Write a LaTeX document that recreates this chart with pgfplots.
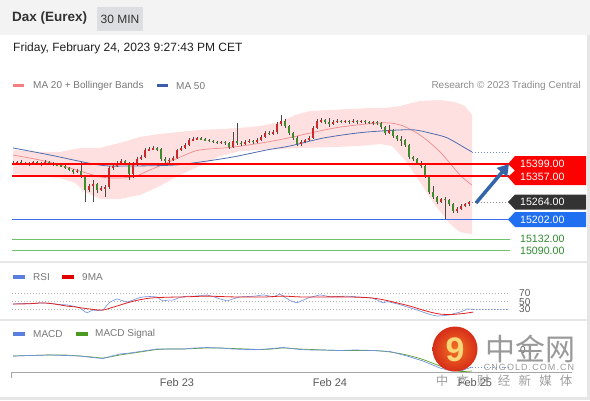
\documentclass[border=0pt]{standalone}
\usepackage{pgfplots}
\pgfplotsset{compat=1.18}
\usepackage{pgfplotstable}
\usetikzlibrary{arrows.meta}
\usepackage{fontspec}
\setmainfont{Liberation Sans}
\newfontfamily\cjk{Noto Sans CJK SC}
\definecolor{upc}{HTML}{CC2A2A}
\definecolor{dnc}{HTML}{3F8A2A}
\definecolor{wickc}{HTML}{4A4A4A}
\definecolor{bandc}{HTML}{FFE0E0}
\definecolor{ma20c}{HTML}{F08A8A}
\definecolor{ma50c}{HTML}{4E6DB0}
\definecolor{lvlblue}{RGB}{60,110,235}
\definecolor{lvlgreen}{RGB}{110,195,110}
\definecolor{boxblue}{HTML}{1F6FF0}
\definecolor{boxdark}{HTML}{333333}
\definecolor{txtgreen}{HTML}{2E8B2E}
\definecolor{rsiblue}{HTML}{7090E0}
\definecolor{rsired}{HTML}{E02020}
\definecolor{macdgreen}{HTML}{5AA02C}
\definecolor{arrowc}{HTML}{3465A8}
\definecolor{sep}{HTML}{E6E6E6}
\definecolor{hdr}{HTML}{F3F3F3}
\definecolor{minbox}{HTML}{DCDEE2}
\definecolor{lgtxt}{HTML}{777777}
\definecolor{wm}{HTML}{8F8F8F}
\definecolor{lgpink}{HTML}{F47F7F}
\definecolor{lgblue}{HTML}{3B5EA8}
\definecolor{lgrsi}{HTML}{5B7FE0}
\definecolor{lgred}{HTML}{E00000}
\definecolor{lggreen}{HTML}{4A9A20}

\pgfplotstableread{
x o h l c
13 15399 15410 15395 15403
17 15403 15410 15399 15406
21 15406 15413 15395 15399
25 15399 15406 15395 15403
29 15403 15406 15392 15399
33 15399 15410 15395 15406
37 15406 15410 15399 15403
41 15403 15406 15392 15399
45 15399 15413 15395 15406
49 15406 15410 15399 15403
53 15403 15406 15392 15399
57 15399 15403 15392 15395
61 15395 15399 15388 15392
65 15392 15395 15381 15385
69 15385 15388 15374 15378
73 15378 15381 15363 15371
77 15371 15381 15367 15374
81 15374 15406 15349 15356
85 15356 15360 15264 15307
89 15307 15328 15300 15321
93 15321 15342 15264 15328
97 15328 15331 15296 15307
101 15307 15321 15303 15314
105 15314 15324 15282 15317
109 15317 15392 15310 15385
113 15385 15399 15378 15392
117 15392 15410 15388 15403
121 15403 15417 15399 15410
125 15410 15413 15395 15403
129 15403 15406 15342 15363
133 15363 15406 15349 15399
137 15399 15424 15392 15417
141 15417 15431 15413 15424
145 15424 15456 15420 15449
149 15449 15459 15445 15452
153 15452 15463 15449 15456
157 15456 15459 15445 15452
161 15452 15456 15410 15417
165 15417 15424 15403 15410
169 15410 15420 15403 15413
173 15413 15427 15410 15420
177 15420 15452 15417 15449
181 15449 15463 15445 15456
185 15456 15474 15452 15466
189 15466 15491 15463 15484
193 15484 15495 15481 15488
197 15488 15495 15484 15491
201 15491 15495 15484 15488
205 15488 15491 15481 15484
209 15484 15488 15477 15481
213 15481 15484 15474 15477
217 15477 15481 15470 15474
221 15474 15481 15470 15477
225 15477 15481 15466 15474
229 15474 15477 15452 15459
233 15459 15513 15456 15481
237 15481 15545 15466 15474
241 15474 15481 15463 15470
245 15470 15484 15466 15477
249 15477 15488 15474 15481
253 15481 15484 15470 15477
257 15477 15491 15474 15484
261 15484 15502 15481 15495
265 15495 15516 15491 15509
269 15509 15516 15502 15506
273 15506 15520 15502 15513
277 15513 15548 15506 15541
281 15541 15573 15534 15552
285 15552 15559 15527 15534
289 15534 15537 15502 15509
293 15509 15513 15484 15491
297 15491 15498 15463 15470
301 15470 15484 15463 15477
305 15477 15488 15474 15484
309 15484 15498 15481 15491
313 15491 15534 15488 15527
317 15527 15559 15523 15552
321 15552 15562 15545 15555
325 15555 15559 15541 15548
329 15548 15562 15530 15541
333 15541 15555 15537 15548
337 15548 15559 15545 15552
341 15552 15555 15545 15548
345 15548 15555 15545 15552
349 15552 15555 15541 15548
353 15548 15559 15545 15552
357 15552 15555 15541 15548
361 15548 15555 15545 15552
365 15552 15555 15541 15548
369 15548 15552 15541 15545
373 15545 15552 15537 15548
377 15548 15552 15537 15545
381 15545 15548 15523 15530
385 15530 15534 15502 15509
389 15509 15537 15506 15520
393 15520 15523 15491 15498
397 15498 15502 15481 15488
401 15488 15498 15463 15484
405 15484 15488 15459 15466
409 15466 15470 15417 15424
413 15424 15427 15410 15417
417 15417 15420 15399 15403
421 15403 15410 15385 15392
425 15392 15403 15349 15356
429 15356 15360 15292 15300
433 15300 15321 15275 15282
437 15282 15285 15257 15264
441 15264 15278 15260 15275
445 15275 15282 15200 15271
449 15271 15275 15250 15257
453 15257 15260 15225 15232
457 15232 15246 15225 15239
461 15239 15257 15235 15250
465 15250 15260 15246 15257
469 15257 15268 15250 15264
}\candles

\pgfplotsset{panel/.style={scale only axis, width=590pt, xmin=0, xmax=590,
  axis lines=none, clip=false, anchor=south west}}

\begin{document}
\begin{tikzpicture}
\begin{scope}[x=1pt,y=1pt]
% background and frame
\fill[white] (0,0) rectangle (590,400);
\fill[hdr] (0,365) rectangle (590,400);
\fill[minbox] (97,369) rectangle (143,393);
\node[anchor=west, inner sep=0, text=black!80, font=\fontsize{13.5}{15}\selectfont\bfseries] at (12,382) {Dax (Eurex)};
\node[inner sep=0, text=black!80, font=\fontsize{12}{14}\selectfont] at (120,381) {30 MIN};
\node[anchor=west, inner sep=0, text=black!88, font=\fontsize{12}{14}\selectfont] at (13,352) {Friday, February 24, 2023 9:27:43 PM CET};
\fill[sep] (0,137) rectangle (587,139);
\fill[sep] (0,79) rectangle (587,81);
\fill[sep] (0,0) rectangle (590,3);
\fill[sep] (587,0) rectangle (590,365);
% main legend
\fill[lgpink] (13,312.5) rectangle (24,316);
\node[anchor=west, inner sep=0, text=lgtxt, font=\fontsize{10}{12}\selectfont] at (33,314) {MA 20 + Bollinger Bands};
\fill[lgblue] (157,312.5) rectangle (168,316);
\node[anchor=west, inner sep=0, text=lgtxt, font=\fontsize{10}{12}\selectfont] at (176,314) {MA 50};
\node[anchor=east, inner sep=0, text=black!45, font=\fontsize{10}{12}\selectfont] at (581,314) {Research \textcopyright{} 2023 Trading Central};
\end{scope}

% price panel
\begin{axis}[panel, at={(0pt,138pt)}, height=167pt, ymin=15050.9, ymax=15644.1]
\addplot[fill=bandc, draw=none] coordinates {
(13,15449) (40,15442) (60,15442) (80,15456) (100,15456) (120,15474) (140,15495)
(160,15506) (180,15513) (200,15520) (220,15523) (240,15527) (260,15534) (280,15548)
(295,15573) (310,15587) (330,15591) (350,15594) (370,15598) (385,15598) (400,15605)
(420,15623) (440,15626) (455,15619) (465,15605) (472,15573)
(472,15150) (460,15157) (450,15186) (435,15253) (420,15335) (405,15413) (392,15463)
(380,15470) (360,15463) (330,15459) (300,15456) (280,15452) (260,15449) (240,15445)
(220,15427) (200,15392) (180,15360) (160,15321) (140,15289) (120,15275) (100,15275)
(85,15300) (75,15332) (60,15349) (40,15356) (13,15364)} -- cycle;
\addplot[ma20c, line width=0.7pt, smooth] coordinates {
(13,15431) (40,15413) (60,15395) (80,15374) (100,15353) (110,15349) (133,15353)
(150,15378) (167,15403) (185,15431) (200,15449) (233,15459) (267,15477) (293,15495)
(310,15509) (340,15530) (380,15545) (400,15538) (420,15502) (440,15442) (460,15360) (472,15324)};
\addplot[ma50c, line width=0.8pt, smooth] coordinates {
(13,15456) (50,15431) (100,15395) (130,15392) (173,15395) (200,15406) (233,15424)
(267,15449) (290,15463) (323,15491) (357,15509) (380,15516) (400,15520) (415,15520)
(430,15509) (445,15495) (455,15477) (465,15456) (472,15442)};
% wicks
\addplot[draw=none, mark=none, error bars/.cd, y dir=both, y explicit, error mark=none,
  error bar style={line width=0.6pt, draw=wickc, solid}]
  table[x=x, y expr={\thisrow{l}+(\thisrow{h}-\thisrow{l})/2}, y error expr={(\thisrow{h}-\thisrow{l})/2}] {\candles};
% up bodies
\addplot[draw=none, mark=none, error bars/.cd, y dir=both, y explicit, error mark=none,
  error bar style={line width=2.6pt, draw=upc, solid}]
  table[x=x, y expr={\thisrow{o}+(\thisrow{c}-\thisrow{o})/2}, y error expr={ifthenelse(\thisrow{c}>\thisrow{o},(\thisrow{c}-\thisrow{o})/2,0)}] {\candles};
% down bodies
\addplot[draw=none, mark=none, error bars/.cd, y dir=both, y explicit, error mark=none,
  error bar style={line width=2.6pt, draw=dnc, solid}]
  table[x=x, y expr={\thisrow{o}+(\thisrow{c}-\thisrow{o})/2}, y error expr={ifthenelse(\thisrow{c}<\thisrow{o},(\thisrow{o}-\thisrow{c})/2,0)}] {\candles};
% levels
\addplot[draw=red, line width=2pt] coordinates {(12,15399) (509,15399)};
\addplot[draw=red, line width=2pt] coordinates {(12,15357) (509,15357)};
\addplot[draw=lvlblue, line width=1.2pt] coordinates {(12,15202) (509,15202)};
\addplot[draw=lvlgreen, line width=1pt] coordinates {(12,15132) (510,15132)};
\addplot[draw=lvlgreen, line width=1pt] coordinates {(12,15090) (510,15090)};
\addplot[draw=black!45, dash pattern=on 1pt off 2pt] coordinates {(472,15264) (508,15264)};
\addplot[draw=ma50c!80, dash pattern=on 1pt off 2pt] coordinates {(472,15442) (510,15442)};
\end{axis}

% RSI panel
\begin{axis}[panel, at={(0pt,82pt)}, height=33pt, ymin=8.25, ymax=90.75]
\addplot[black!30, dash pattern=on 1pt off 2pt] coordinates {(12,70) (510,70)};
\addplot[black!30, dash pattern=on 1pt off 2pt] coordinates {(12,50) (510,50)};
\addplot[black!30, dash pattern=on 1pt off 2pt] coordinates {(12,30) (510,30)};
\addplot[rsiblue, line width=0.6pt] coordinates {
(13,43) (22,45) (30,44) (40,46) (50,45) (60,42) (67,41) (75,37) (80,33) (85,24) (87,21)
(90,25) (93,28) (98,27) (103,28) (107,40) (110,48) (114,53) (117,56) (122,52) (127,48)
(133,53) (138,58) (143,61) (150,62) (157,61) (160,55) (163,51) (168,53) (173,53) (180,60)
(187,63) (195,63) (200,64) (207,66) (213,62) (220,56) (227,51) (233,56) (240,61) (248,62)
(255,63) (263,66) (268,64) (273,61) (277,65) (280,68) (285,60) (290,52) (297,46) (303,53)
(310,60) (320,66) (325,64) (330,61) (338,62) (345,63) (352,62) (357,61) (365,60) (373,58)
(378,52) (383,46) (387,49) (390,48) (398,43) (407,36) (415,30) (423,23) (430,17) (437,13)
(443,14) (450,16) (455,20) (460,23) (465,28) (467,31) (473,30)};
\addplot[rsired, line width=0.8pt, smooth] coordinates {
(13,43) (30,44) (43,46) (55,43) (67,38) (75,36) (83,33) (92,30) (100,28) (105,29) (110,33)
(118,39) (127,46) (138,53) (150,58) (165,60) (183,61) (195,62) (207,63) (220,62) (233,61)
(250,61) (267,61) (283,63) (300,61) (323,61) (345,61) (360,60) (373,58) (385,53) (397,46)
(410,38) (423,28) (432,22) (440,18) (450,17) (457,18) (465,20) (473,23)};
\addplot[rsiblue, dash pattern=on 1pt off 2pt] coordinates {(473,30) (508,30)};
\end{axis}

% MACD panel
\begin{axis}[panel, at={(0pt,28pt)}, height=32pt, ymin=-44, ymax=20]
\addplot[macdgreen, line width=0.7pt, smooth] coordinates {
(13,-12) (30,-11) (50,-10) (65,-10) (80,-12) (92,-14) (103,-16) (112,-13) (120,-10)
(130,-7) (140,-4) (150,-1) (157,1) (170,2) (183,2) (195,3) (207,4) (220,4) (233,3)
(247,2) (260,1) (272,2) (283,4) (292,3) (300,2) (312,1) (323,0) (340,-1) (355,-1)
(373,-1) (390,-4) (407,-10) (423,-19) (440,-32) (452,-40) (462,-43) (472,-42)};
\addplot[rsiblue, line width=0.7pt] coordinates {
(13,-12) (30,-11) (50,-10) (65,-11) (80,-12) (92,-15) (103,-17) (112,-12) (120,-8)
(130,-6) (140,-3) (150,0) (157,2) (170,2) (183,2) (195,4) (207,5) (220,4) (233,2)
(247,1) (260,1) (272,3) (283,5) (292,3) (300,1) (312,0) (323,0) (340,-1) (355,0)
(373,-1) (390,-3) (407,-12) (423,-22) (440,-36) (452,-42) (462,-41) (472,-34)};
\addplot[rsiblue, dash pattern=on 1pt off 2pt] coordinates {(472,-34) (510,-34)};
\end{axis}

\begin{scope}[x=1pt,y=1pt]
% panel legends and labels
\fill[lgrsi] (13,121.5) rectangle (25,125);
\node[anchor=west, inner sep=0, text=lgtxt, font=\fontsize{10}{12}\selectfont] at (33,123) {RSI};
\fill[lgred] (62,121.5) rectangle (74,125);
\node[anchor=west, inner sep=0, text=lgtxt, font=\fontsize{10}{12}\selectfont] at (82,123) {9MA};
\fill[lgrsi] (13,64.5) rectangle (25,68);
\node[anchor=west, inner sep=0, text=lgtxt, font=\fontsize{10}{12}\selectfont] at (33,66) {MACD};
\fill[lggreen] (76,64.5) rectangle (88,68);
\node[anchor=west, inner sep=0, text=lgtxt, font=\fontsize{10}{12}\selectfont] at (95,66) {MACD Signal};
\foreach \v/\yy in {70/106.7,50/98.3,30/90.7}
  \node[anchor=west, inner sep=0, text=black!65, font=\fontsize{10}{12}\selectfont] at (519,\yy) {\v};
\node[anchor=west, inner sep=0, text=black!65, font=\fontsize{10}{12}\selectfont] at (520,50) {0};

% time axis
\draw[black!35, line width=0.8pt] (11,28) -- (572,28);
\draw[black!35, line width=0.8pt] (11,28) -- (11,22);
\foreach \lab/\xx in {Feb 23/177,Feb 24/330,Feb 25/475}
  \node[inner sep=0, text=black!65, font=\fontsize{11}{13}\selectfont] at (\xx,17) {\lab};

% price tags
\fill[red] (515,244) -- (586,244) -- (586,215) -- (515,215) -- (508,223) -- (515,229.5) -- (508,236) -- cycle;
\fill[boxdark] (515,205.5) -- (586,205.5) -- (586,190.5) -- (515,190.5) -- (508,198) -- cycle;
\fill[boxblue] (515,188) -- (586,188) -- (586,173) -- (515,173) -- (508,180.5) -- cycle;
\begin{scope}[every node/.style={anchor=west, inner sep=0, font=\fontsize{10.6}{12}\selectfont}]
\node[text=white] at (520,236) {15399.00};
\node[text=white] at (520,223) {15357.00};
\node[text=white] at (520,198) {15264.00};
\node[text=white] at (520,180.5) {15202.00};
\node[text=txtgreen] at (520,161) {15132.00};
\node[text=txtgreen] at (520,149) {15090.00};
\end{scope}
\draw[arrowc, line width=3.5pt, -{Triangle[length=11pt,width=13pt]}] (476,197) -- (509,236);

% watermark
\shade[inner color={rgb,255:red,242;green,115;blue,35}, outer color={rgb,255:red,214;green,45;blue,25}] (455,51) circle (22.5);
\node[text={rgb,255:red,250;green,214;blue,120}, font=\fontsize{34}{36}\selectfont\bfseries] at (455,50) {9};
\node[text=wm, opacity=0.9, font=\fontsize{30}{32}\selectfont\cjk] at (530,51) {中金网};
\node[text=wm, opacity=0.9, font=\fontsize{9}{10}\selectfont\addfontfeatures{LetterSpace=12}] at (529,33) {CNGOLD.COM.CN};
\foreach \ch [count=\i from 0] in {中,文,财,经,新,媒,体}
  \node[text=wm, opacity=0.85, font=\fontsize{12.5}{14}\selectfont\cjk] at (442+20.7*\i,19) {\ch};
\end{scope}
\end{tikzpicture}
\end{document}
